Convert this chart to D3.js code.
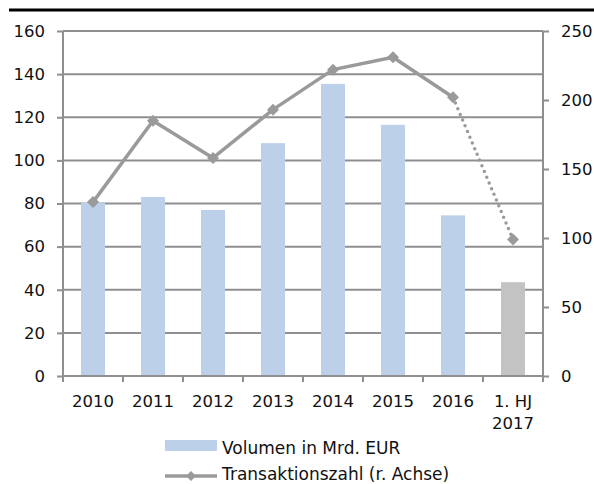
<!DOCTYPE html>
<html><head><meta charset="utf-8">
<script src="https://cdn.jsdelivr.net/npm/d3@7"></script>
<style>
body{margin:0;background:#fff;}
svg{display:block;}
text{font-family:"DejaVu Sans";fill:#111;}
</style></head>
<body>
<svg id="c" width="594" height="484"></svg>
<script>
const categories = ["2010","2011","2012","2013","2014","2015","2016","1. HJ\n2017"];
const volumen = [80.5, 83, 77, 108, 135.5, 116.5, 74.5, 43.5];
const transaktionen = [126, 185, 158, 193, 222, 231, 202, 99];
const leftTicks = [0,20,40,60,80,100,120,140,160];
const rightTicks = [0,50,100,150,200,250];
const legendLabels = ["Volumen in Mrd. EUR","Transaktionszahl (r. Achse)"];

const svg = d3.select("#c");
const W = 594, H = 484;
const m = {l:63, r:543, t:31, b:376};
const gridCol = "#8f8f8f", lineCol = "#9a9a9a";
const barBlue = "#bdd0ea", barGray = "#c3c3c3";
const fs = "16.5px", lfs = "17px";

svg.append("line").attr("x1",9).attr("x2",W).attr("y1",10).attr("y2",10)
  .attr("stroke","#000").attr("stroke-width",3);

const x = d3.scaleBand().domain(categories).range([m.l,m.r]).paddingInner(0).paddingOuter(0);
const yL = d3.scaleLinear().domain([0,160]).range([m.b,m.t]);
const yR = d3.scaleLinear().domain([0,250]).range([m.b,m.t]);

// gridlines
svg.append("g").selectAll("line").data(leftTicks.filter(d=>d>0)).join("line")
  .attr("x1",m.l).attr("x2",m.r).attr("y1",d=>yL(d)).attr("y2",d=>yL(d))
  .attr("stroke",gridCol).attr("stroke-width",2);

// bars
const bw = 24;
svg.append("g").selectAll("rect").data(volumen).join("rect")
  .attr("x",(d,i)=>x(categories[i])+x.bandwidth()/2-bw/2)
  .attr("width",bw)
  .attr("y",d=>yL(d)).attr("height",d=>m.b-yL(d))
  .attr("fill",(d,i)=>i===categories.length-1?barGray:barBlue);

// axes
const axL = d3.axisLeft(yL).tickValues(leftTicks).tickSize(6).tickPadding(12);
const gL = svg.append("g").attr("transform",`translate(${m.l},0)`).call(axL);
const axR = d3.axisRight(yR).tickValues(rightTicks).tickSize(6).tickPadding(12);
const gR = svg.append("g").attr("transform",`translate(${m.r},0)`).call(axR);
const axB = d3.axisBottom(x).tickSize(0).tickFormat("");
const gB = svg.append("g").attr("transform",`translate(0,${m.b})`).call(axB);
[gL,gR,gB].forEach(g=>{
  g.select(".domain").attr("stroke",gridCol).attr("stroke-width",2);
  g.selectAll(".tick line").attr("stroke",gridCol).attr("stroke-width",2);
  g.selectAll("text").style("font-family","DejaVu Sans").style("font-size",fs).attr("fill","#111");
});
gL.select(".domain").attr("d",`M0,${m.t}V${m.b}`);
gR.select(".domain").attr("d",`M0,${m.t}V${m.b}`);
gB.select(".domain").attr("d",`M${m.l},0H${m.r}`);
// category separator ticks
const sep = d3.range(categories.length+1).map(i=>m.l+i*x.bandwidth());
svg.append("g").selectAll("line").data(sep).join("line")
  .attr("x1",d=>d).attr("x2",d=>d).attr("y1",m.b).attr("y2",m.b+6)
  .attr("stroke",gridCol).attr("stroke-width",2);
// category labels
const cl = svg.append("g").selectAll("text").data(categories).join("text")
  .attr("text-anchor","middle").style("font-size",fs)
  .attr("transform",d=>`translate(${x(d)+x.bandwidth()/2},407)`);
cl.each(function(d){
  const parts = d.split("\n");
  d3.select(this).selectAll("tspan").data(parts).join("tspan")
    .attr("x",0).attr("dy",(p,i)=>i===0?0:22).text(p=>p);
});

// line
const pts = transaktionen.map((v,i)=>[x(categories[i])+x.bandwidth()/2, yR(v)]);
const n = pts.length;
svg.append("path").attr("d",d3.line()(pts.slice(0,n-1)))
  .attr("fill","none").attr("stroke",lineCol).attr("stroke-width",3.5).attr("stroke-linejoin","round");
svg.append("path").attr("d",d3.line()(pts.slice(n-2)))
  .attr("fill","none").attr("stroke",lineCol).attr("stroke-width",3.5)
  .attr("stroke-linecap","round").attr("stroke-dasharray","0 6.2");
svg.append("g").selectAll("path").data(pts).join("path")
  .attr("d",d3.symbol().type(d3.symbolSquare).size(72))
  .attr("transform",d=>`translate(${d[0]},${d[1]}) rotate(45)`)
  .attr("fill",lineCol);

// legend
const lg = svg.append("g");
lg.append("rect").attr("x",165).attr("y",440).attr("width",52).attr("height",11).attr("fill",barBlue);
lg.append("text").attr("x",222).attr("y",454).style("font-size",lfs).text(legendLabels[0]);
lg.append("line").attr("x1",165).attr("x2",217).attr("y1",476).attr("y2",476)
  .attr("stroke",lineCol).attr("stroke-width",3.5);
lg.append("path").attr("d",d3.symbol().type(d3.symbolSquare).size(50))
  .attr("transform","translate(191,476) rotate(45)").attr("fill",lineCol);
lg.append("text").attr("x",222).attr("y",479.5).style("font-size",lfs).text(legendLabels[1]);
</script>
</body></html>
